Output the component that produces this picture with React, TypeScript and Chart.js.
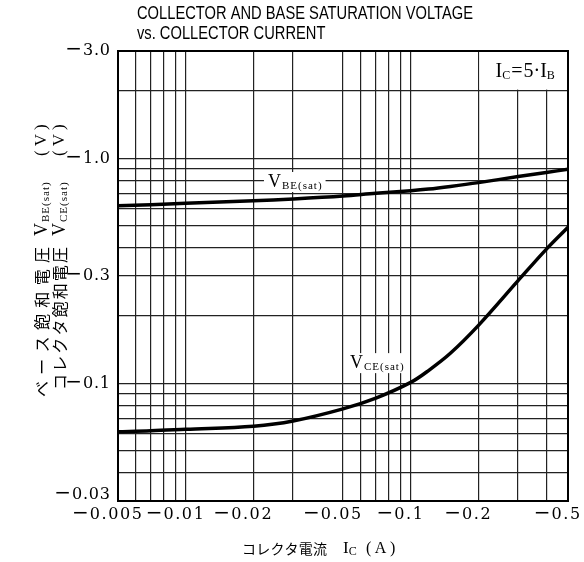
import { useEffect, useRef } from 'react';
import { Chart, registerables } from 'chart.js';

Chart.register(...registerables);

// Collector current magnitude (A); plotted on log scale, labelled with minus sign
const currents = [0.005, 0.007, 0.01, 0.02, 0.03, 0.05, 0.07, 0.1, 0.12, 0.15, 0.2, 0.3, 0.4, 0.5];
const vbeSat = [0.616, 0.622, 0.631, 0.648, 0.66, 0.68, 0.7, 0.718, 0.73, 0.75, 0.78, 0.83, 0.865, 0.895];
const vceSat = [0.061, 0.0615, 0.0625, 0.0645, 0.068, 0.077, 0.086, 0.101, 0.114, 0.136, 0.181, 0.286, 0.394, 0.494];

const xGrid = [0.005, 0.006, 0.007, 0.008, 0.009, 0.01, 0.02, 0.03, 0.05, 0.06, 0.07, 0.08, 0.09, 0.1, 0.2, 0.3, 0.4, 0.5];
const yGrid = [0.03, 0.04, 0.05, 0.06, 0.07, 0.08, 0.09, 0.1, 0.2, 0.3, 0.4, 0.5, 0.6, 0.7, 0.8, 0.9, 1, 2, 3];

const xTickValues = [0.005, 0.01, 0.02, 0.05, 0.1, 0.2, 0.5];
const xTickTexts = ['−0.005', '−0.01', '−0.02', '−0.05', '−0.1', '−0.2', '−0.5'];
const yTickValues = [0.03, 0.1, 0.3, 1, 3];
const yTickTexts = ['−0.03', '−0.1', '−0.3', '−1.0', '−3.0'];

const titleLines = ['COLLECTOR AND BASE SATURATION VOLTAGE', 'vs. COLLECTOR CURRENT'];
const seriesLabels = [
  { main: 'V', sub: 'BE(sat)', x: 0.0232, y: 0.785 },
  { main: 'V', sub: 'CE(sat)', x: 0.0537, y: 0.123 },
];
const conditionBox = { x0: 0.2, x1: 0.5, y0: 2, y1: 3 };

const SERIF = '"Liberation Serif", "DejaVu Serif", serif';
const TICKF = '"DejaVu Serif", "Liberation Serif", serif';
const CJK = '"Noto Sans CJK JP", sans-serif';

function spacedWidth(ctx: CanvasRenderingContext2D, text: string, sp: number) {
  const chars = Array.from(text);
  let w = 0;
  for (const ch of chars) w += ctx.measureText(ch).width;
  return w + sp * Math.max(0, chars.length - 1);
}

function drawSpaced(
  ctx: CanvasRenderingContext2D,
  text: string,
  x: number,
  y: number,
  sp: number,
  align: 'left' | 'right' | 'center' = 'left'
) {
  const w = spacedWidth(ctx, text, sp);
  let cx = align === 'right' ? x - w : align === 'center' ? x - w / 2 : x;
  ctx.textAlign = 'left';
  for (const ch of Array.from(text)) {
    ctx.fillText(ch, cx, y);
    cx += ctx.measureText(ch).width + sp;
  }
  return cx - sp;
}

function drawFit(ctx: CanvasRenderingContext2D, text: string, x: number, y: number, len: number) {
  const chars = Array.from(text);
  let w0 = 0;
  for (const ch of chars) w0 += ctx.measureText(ch).width;
  const sp = (len - w0) / Math.max(1, chars.length - 1);
  return drawSpaced(ctx, text, x, y, sp);
}

// tick label: wide minus sign followed by spaced digits
function drawTick(
  ctx: CanvasRenderingContext2D,
  text: string,
  x: number,
  y: number,
  sp: number,
  align: 'right' | 'center'
) {
  const minusFont = `20px ${TICKF}`;
  const digitFont = `16px ${TICKF}`;
  const hasMinus = text.startsWith('−');
  const rest = hasMinus ? text.slice(1) : text;
  ctx.font = minusFont;
  const mw = hasMinus ? ctx.measureText('−').width - 1 : 0;
  ctx.font = digitFont;
  const rw = spacedWidth(ctx, rest, sp);
  const total = mw + rw;
  const start = align === 'right' ? x - total : x - total / 2;
  if (hasMinus) {
    ctx.font = minusFont;
    ctx.textAlign = 'left';
    ctx.fillText('−', start - 2, y - 1);
  }
  ctx.font = digitFont;
  drawSpaced(ctx, rest, start + mw, y, sp);
}

const decorPlugin = {
  id: 'decor',
  beforeDatasetsDraw(chart: any) {
    const ctx: CanvasRenderingContext2D = chart.ctx;
    const xs = chart.scales.x;
    const ys = chart.scales.y;
    ctx.save();
    ctx.fillStyle = '#fff';
    const bx0 = xs.getPixelForValue(conditionBox.x0) + 1;
    const bx1 = xs.getPixelForValue(conditionBox.x1) - 1;
    const by0 = ys.getPixelForValue(conditionBox.y1) + 1;
    const by1 = ys.getPixelForValue(conditionBox.y0) - 1;
    ctx.fillRect(bx0, by0, bx1 - bx0, by1 - by0);
    for (const l of seriesLabels) {
      const px = xs.getPixelForValue(l.x);
      const py = ys.getPixelForValue(l.y);
      ctx.font = `18px ${SERIF}`;
      const wm = ctx.measureText(l.main).width;
      ctx.font = `11px ${SERIF}`;
      const wsub = spacedWidth(ctx, l.sub, 1);
      ctx.fillRect(px - 4, py - 10, wm + wsub + 9, 20);
    }
    ctx.restore();
  },
  afterDatasetsDraw(chart: any) {
    const ctx: CanvasRenderingContext2D = chart.ctx;
    const xs = chart.scales.x;
    const ys = chart.scales.y;
    const a = chart.chartArea;
    ctx.save();
    ctx.strokeStyle = '#000';
    ctx.lineWidth = 2;
    ctx.strokeRect(a.left, a.top, a.right - a.left, a.bottom - a.top);

    ctx.fillStyle = '#000';
    ctx.textBaseline = 'middle';

    // series labels
    for (const l of seriesLabels) {
      const px = xs.getPixelForValue(l.x);
      const py = ys.getPixelForValue(l.y);
      ctx.font = `18px ${SERIF}`;
      ctx.textAlign = 'left';
      ctx.fillText(l.main, px, py);
      const wm = ctx.measureText(l.main).width;
      ctx.font = `11px ${SERIF}`;
      drawSpaced(ctx, l.sub, px + wm + 1, py + 4, 1);
    }

    // condition text  I_C = 5·I_B
    {
      const cx = (xs.getPixelForValue(conditionBox.x0) + xs.getPixelForValue(conditionBox.x1)) / 2 + 2;
      const cy = (ys.getPixelForValue(conditionBox.y0) + ys.getPixelForValue(conditionBox.y1)) / 2 + 1;
      const big = `20px ${SERIF}`;
      const small = `12px ${SERIF}`;
      ctx.font = big;
      const wI = ctx.measureText('I').width;
      const wEq = ctx.measureText('=').width;
      const w5 = ctx.measureText('5·I').width;
      ctx.font = small;
      const wC = ctx.measureText('C').width;
      const wB = ctx.measureText('B').width;
      const total = wI + wC + 1 + wEq + 1 + w5 + wB;
      let x = cx - total / 2;
      ctx.textAlign = 'left';
      ctx.font = big;
      ctx.fillText('I', x, cy);
      x += wI;
      ctx.font = small;
      ctx.fillText('C', x, cy + 4);
      x += wC + 1;
      ctx.font = big;
      ctx.fillText('=', x, cy);
      x += wEq + 1;
      ctx.fillText('5·I', x, cy);
      x += w5;
      ctx.font = small;
      ctx.fillText('B', x, cy + 4);
    }

    // y tick labels
    yTickValues.forEach((v, i) => {
      const py = ys.getPixelForValue(v) + (i === 0 ? -6 : 0);
      drawTick(ctx, yTickTexts[i], a.left - 8, py, 0.8, 'right');
    });
    // x tick labels
    xTickValues.forEach((v, i) => {
      const px = xs.getPixelForValue(v) - 10;
      drawTick(ctx, xTickTexts[i], px, a.bottom + 14, 1.6, 'center');
    });

    // chart title (condensed sans)
    {
      ctx.font = `18px "Liberation Sans", Arial, sans-serif`;
      const w0 = ctx.measureText(titleLines[0]).width;
      const k = 336 / w0;
      ctx.textAlign = 'left';
      ctx.save();
      ctx.translate(137, 0);
      ctx.scale(k, 1);
      ctx.fillText(titleLines[0], 0, 14);
      ctx.fillText(titleLines[1], 0, 34);
      ctx.restore();
    }

    // x axis title
    {
      const y = 549;
      ctx.font = `14px ${CJK}`;
      drawFit(ctx, 'コレクタ電流', 242, y, 85);
      ctx.font = `17px ${SERIF}`;
      ctx.textAlign = 'left';
      ctx.fillText('I', 343, y);
      const wI = ctx.measureText('I').width;
      ctx.font = `12px ${SERIF}`;
      ctx.fillText('C', 343 + wI, y + 3);
      ctx.font = `16px ${SERIF}`;
      drawSpaced(ctx, '(A)', 366, y, 3.5);
    }

    // y axis title (two vertical lines, reading bottom to top)
    const vLines = [
      { cx: 42, start: 397, jp: 'ベース飽和電圧', jpLen: 150, sub: 'BE(sat)' },
      { cx: 60, start: 390, jp: 'コレクタ飽和電圧', jpLen: 143, sub: 'CE(sat)' },
    ];
    for (const ln of vLines) {
      ctx.save();
      ctx.translate(ln.cx, ln.start);
      ctx.rotate(-Math.PI / 2);
      ctx.font = `16px ${CJK}`;
      drawFit(ctx, ln.jp, 0, 0, ln.jpLen);
      const u0 = ln.start - 236;
      ctx.font = `18px ${SERIF}`;
      ctx.textAlign = 'left';
      ctx.fillText('V', u0, 0);
      const wv = ctx.measureText('V').width;
      ctx.font = `11px ${SERIF}`;
      drawSpaced(ctx, ln.sub, u0 + wv + 1, 4, 1);
      ctx.font = `17px ${SERIF}`;
      drawSpaced(ctx, '(V)', ln.start - 156, 0, 4);
      ctx.restore();
    }
    ctx.restore();
  },
};

export default function App() {
  const ref = useRef<HTMLCanvasElement | null>(null);
  useEffect(() => {
    if (!ref.current) return;
    const chart = new Chart(ref.current, {
      type: 'line',
      data: {
        datasets: [
          {
            label: 'VBE(sat)',
            data: currents.map((c, i) => ({ x: c, y: vbeSat[i] })),
            borderColor: '#000',
            borderWidth: 3.5,
            pointRadius: 0,
            tension: 0.35,
            fill: false,
          },
          {
            label: 'VCE(sat)',
            data: currents.map((c, i) => ({ x: c, y: vceSat[i] })),
            borderColor: '#000',
            borderWidth: 3.5,
            pointRadius: 0,
            tension: 0.35,
            fill: false,
          },
        ],
      },
      options: {
        animation: false,
        responsive: false,
        events: [],
        layout: { padding: { left: 0, top: 51, right: 16, bottom: 0 } },
        plugins: { legend: { display: false }, tooltip: { enabled: false }, title: { display: false } },
        scales: {
          x: {
            type: 'logarithmic',
            min: 0.005,
            max: 0.5,
            afterBuildTicks: (s: any) => {
              s.ticks = xGrid.map((v) => ({ value: v }));
            },
            afterFit: (s: any) => {
              s.height = 61;
            },
            ticks: { display: false },
            grid: { color: '#222', lineWidth: 1.2, drawTicks: false },
            border: { display: false },
          },
          y: {
            type: 'logarithmic',
            min: 0.03,
            max: 3,
            afterBuildTicks: (s: any) => {
              s.ticks = yGrid.map((v) => ({ value: v }));
            },
            afterFit: (s: any) => {
              s.width = 118;
            },
            ticks: { display: false },
            grid: { color: '#222', lineWidth: 1.2, drawTicks: false },
            border: { display: false },
          },
        },
      } as any,
      plugins: [decorPlugin],
    });
    return () => chart.destroy();
  }, []);
  return (
    <div style={{ position: 'absolute', left: 0, top: 0, width: 584, height: 562, background: '#fff' }}>
      <canvas ref={ref} width={584} height={562} style={{ display: 'block' }} />
    </div>
  );
}
